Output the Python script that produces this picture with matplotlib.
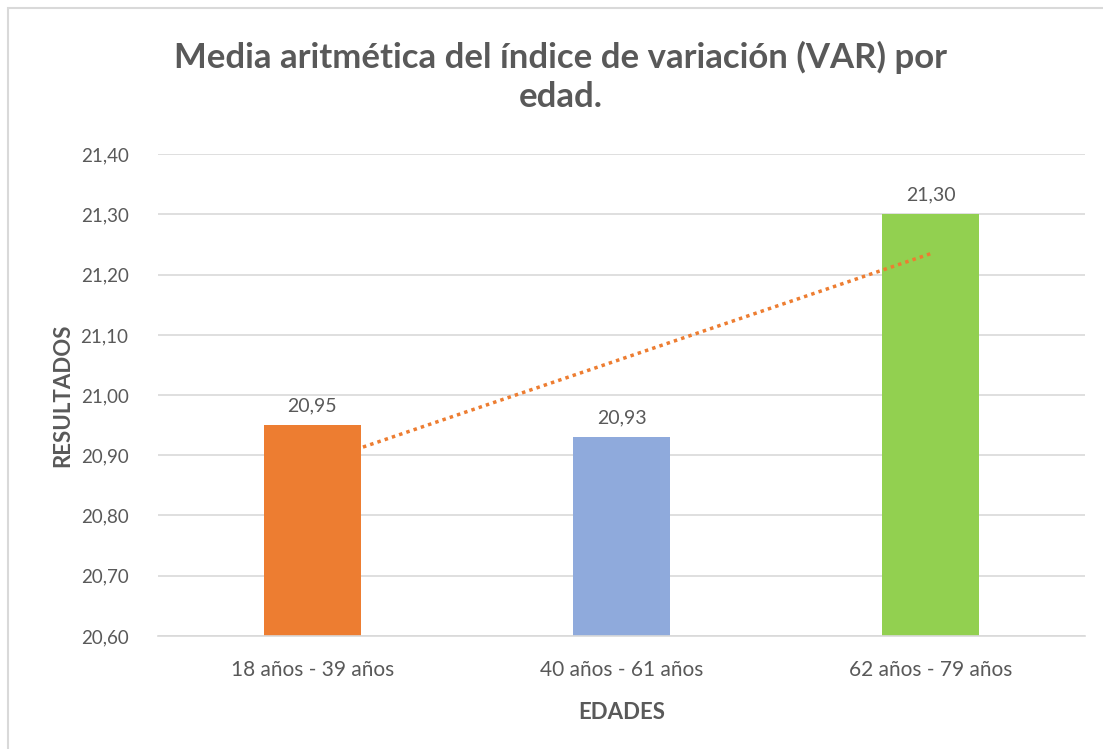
import numpy as np
import matplotlib.pyplot as plt
from matplotlib.patches import Rectangle
from matplotlib.ticker import FuncFormatter

categorias = ['18 años - 39 años', '40 años - 61 años', '62 años - 79 años']
valores = [20.95, 20.93, 21.30]
colores = ['#ED7D31', '#8FAADC', '#92D050']

plt.rcParams['font.family'] = ['Lato', 'DejaVu Sans']
gris = '#595959'

fig = plt.figure(figsize=(11.03, 7.49), dpi=100)
ax = fig.add_axes([0.143, 0.151, 0.841, 0.643])

x = np.arange(len(categorias))
ax.bar(x, valores, width=0.315, color=colores, zorder=2)

# linea de tendencia lineal
m, b = np.polyfit(x, valores, 1)
ax.plot(x[[0, -1]], m * x[[0, -1]] + b, linestyle=(0, (1, 1.2)), color='#ED7D31',
        linewidth=2.5, zorder=3)

for xi, v in zip(x, valores):
    ax.text(xi, v + 0.018, f'{v:.2f}'.replace('.', ','), ha='center', va='bottom',
            fontsize=14, color=gris)

ax.set_ylim(20.60, 21.40)
ax.set_xlim(-0.5, 2.5)
ax.set_yticks(np.arange(20.60, 21.41, 0.10))
ax.yaxis.set_major_formatter(FuncFormatter(lambda v, p: f'{v:.2f}'.replace('.', ',')))
ax.set_xticks(x)
ax.set_xticklabels(categorias)
ax.tick_params(axis='both', length=0, labelsize=13.5, colors=gris)
ax.tick_params(axis='x', pad=17, labelsize=15)
ax.tick_params(axis='y', pad=21)
ax.grid(axis='y', color='#D9D9D9', linewidth=1.2, zorder=0)
ax.set_axisbelow(True)
for s in ['top', 'right', 'left']:
    ax.spines[s].set_visible(False)
ax.spines['bottom'].set_color('#D9D9D9')
ax.spines['bottom'].set_linewidth(1.2)

ax.set_xlabel('EDADES', fontsize=16, fontweight='bold', color=gris, labelpad=16)
ax.set_ylabel('RESULTADOS', fontsize=16, fontweight='bold', color=gris, labelpad=5)

fig.text(0.508, 0.897, 'Media aritmética del índice de variación (VAR) por\nedad.',
         ha='center', va='center', fontsize=25, fontweight='bold', color=gris,
         linespacing=1.27)

fig.patches.append(Rectangle((0.007, -0.05), 1.2, 1.05 - 8 / 749,
                             transform=fig.transFigure, fill=False,
                             edgecolor='#D9D9D9', linewidth=1.5))

fig.savefig('out.png', dpi=100)
